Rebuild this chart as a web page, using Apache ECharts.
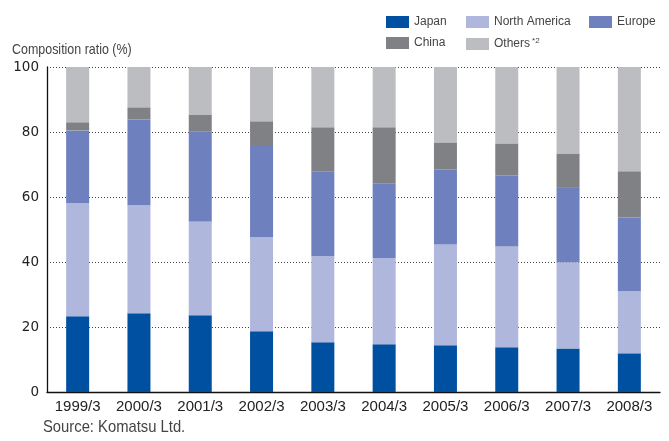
<!DOCTYPE html>
<html>
<head>
<meta charset="utf-8">
<script src="https://cdn.jsdelivr.net/npm/echarts@6/dist/echarts.min.js"></script>
<style>html,body{margin:0;padding:0;background:#fff}#c{width:669px;height:441px}</style>
</head>
<body>
<div id="c"></div>
<script>
var categories = ['1999/3','2000/3','2001/3','2002/3','2003/3','2004/3','2005/3','2006/3','2007/3','2008/3'];
var japan        = [23.3, 24.2, 23.6, 18.7, 15.3, 14.7, 14.4, 13.8, 13.4, 11.9];
var northAmerica = [34.8, 33.3, 28.9, 28.9, 26.5, 26.5, 31.0, 31.0, 26.5, 19.1];
var europe       = [22.4, 26.3, 27.7, 28.1, 26.1, 22.9, 23.0, 21.8, 22.9, 22.7];
var china        = [2.5, 3.8, 5.2, 7.6, 13.6, 17.4, 8.4, 9.9, 10.6, 14.2];
var others       = [17.0, 12.4, 14.6, 16.7, 18.5, 18.5, 23.2, 23.5, 26.6, 32.1];
var yTicks = [0, 20, 40, 60, 80, 100];

var SANS = "'Liberation Sans',Arial,sans-serif";
var colors = {Japan:'#0050A2','North America':'#AFB7DC',Europe:'#6F80BE',China:'#808185','Others *2':'#BCBDC1'};

function mkLegend(name, left, top, rich) {
  var l = {
    data: [name], left: left, top: top, padding: 0, itemWidth: 23, itemHeight: 12, itemGap: 0,
    icon: 'rect', selectedMode: false,
    textStyle: {fontFamily: SANS, fontSize: 12, color: '#444', padding: [0,0,0,0]}
  };
  if (rich) {
    l.formatter = function(){ return '{a|Others}{b|*2}'; };
    l.textStyle.rich = {
      a: {fontFamily: SANS, fontSize: 12, color: '#444', lineHeight: 14},
      b: {fontFamily: SANS, fontSize: 8, color: '#444', verticalAlign: 'top', lineHeight: 8, padding:[0,0,0,2]}
    };
  }
  return l;
}

function mkSeries(name, data) {
  return {name: name, type: 'bar', stack: 'total', data: data, barWidth: 23,
    itemStyle: {color: colors[name]}, emphasis: {disabled: true}};
}

var chart = echarts.init(document.getElementById('c'), null, {renderer: 'canvas'});
chart.setOption({
  animation: false,
  backgroundColor: '#fff',
  grid: {left: 47, right: 9, top: 67, bottom: 49},
  legend: [
    mkLegend('Japan', 386, 16),
    mkLegend('North America', 466, 16),
    mkLegend('Europe', 589, 16),
    mkLegend('China', 386, 37),
    mkLegend('Others *2', 466, 37, true)
  ],
  graphic: [
    {type: 'text', x: 12, y: 42, scaleX: 0.83, style: {text: 'Composition ratio (%)', font: '15px ' + SANS, fill: '#444'}},
    {type: 'text', x: 43, y: 419, scaleX: 0.87, style: {text: 'Source: Komatsu Ltd.', font: '17px ' + SANS, fill: '#444'}}
  ],
  xAxis: {
    type: 'category', data: categories, boundaryGap: true,
    axisLine: {lineStyle: {color: '#111', width: 1.3}},
    axisTick: {inside: true, length: 8, alignWithLabel: false, lineStyle: {color: '#111', width: 1.3}},
    axisLabel: {fontFamily: SANS, fontSize: 15, color: '#222', margin: 7, interval: 0}
  },
  yAxis: {
    type: 'value', min: yTicks[0], max: yTicks[yTicks.length-1], interval: 20,
    axisLine: {show: true, lineStyle: {color: '#111', width: 1.3}},
    axisTick: {show: false},
    axisLabel: {fontFamily: "'DejaVu Sans',sans-serif", fontSize: 13.5, color: '#222', margin: 8},
    splitLine: {show: true, lineStyle: {color: '#444', width: 1, type: [1, 2]}}
  },
  series: [
    mkSeries('Japan', japan),
    mkSeries('North America', northAmerica),
    mkSeries('Europe', europe),
    mkSeries('China', china),
    mkSeries('Others *2', others)
  ]
});
</script>
</body>
</html>
